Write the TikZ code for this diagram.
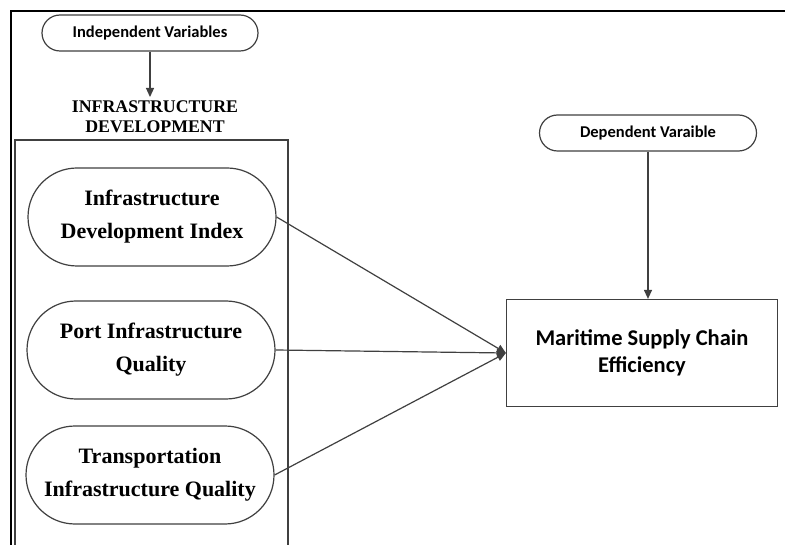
\documentclass[tikz,border=0pt]{standalone}
\usepackage{fontspec}
\setmainfont{Liberation Serif}
\newfontfamily\calibri{Carlito}
\usepackage{xcolor}
\usepackage{tikz}
\usetikzlibrary{arrows.meta,positioning,shapes}

\definecolor{linegray}{HTML}{404040}

\begin{document}
\begin{tikzpicture}
[x=1pt,y=-1pt,
pill/.style={rounded rectangle,draw=linegray,line width=1.2pt,minimum width=216pt,minimum height=36pt,inner sep=0pt,font=\calibri\bfseries\fontsize{16.5}{19}\selectfont},
bigpill/.style={rounded rectangle,draw=linegray,line width=1.2pt,minimum width=248pt,minimum height=98pt,inner sep=0pt,align=center,font=\bfseries\fontsize{22}{33}\selectfont},
box/.style={rectangle,draw=linegray,line width=1.2pt,minimum width=271pt,minimum height=107pt,inner sep=0pt,align=center,font=\calibri\bfseries\fontsize{22.5}{27}\selectfont},
arr/.style={draw=linegray,line width=1.2pt,-{Triangle[length=9pt,width=8pt]}}];
\useasboundingbox (0,0) rectangle (785,545);
\fill[white] (0,0) rectangle (785,545);

% frame
\draw[line width=2pt] (785,11) -- (11,11) -- (11,545);
\draw[linegray,line width=1.2pt] (15,545) -- (15,140) -- (288,140) -- (288,545);

\node[pill] (indep) at (150,33) {Independent Variables};
\node[align=center,font=\bfseries\fontsize{17.8}{20}\selectfont] (infra) at (155,117) {INFRASTRUCTURE\\DEVELOPMENT};

\node[bigpill] (idi) at (152,217) {Infrastructure\\Development Index};
\node[bigpill] (piq) at (151,350) {Port Infrastructure\\Quality};
\node[bigpill] (tiq) at (150,475) {Transportation\\Infrastructure Quality};

\node[pill,minimum width=217pt] (dep) at (648,133) {Dependent Varaible};
\node[box] (msce) at (642,353) {Maritime Supply Chain\\Efficiency};

\draw[arr] (indep.south) -- (indep.south |- 0,97);
\draw[arr] (dep.south) -- (dep.south |- msce.north);
\draw[arr] (idi.east) -- (msce.west);
\draw[arr] (piq.east) -- (msce.west);
\draw[arr] (tiq.east) -- (msce.west);
\end{tikzpicture}
\end{document}
